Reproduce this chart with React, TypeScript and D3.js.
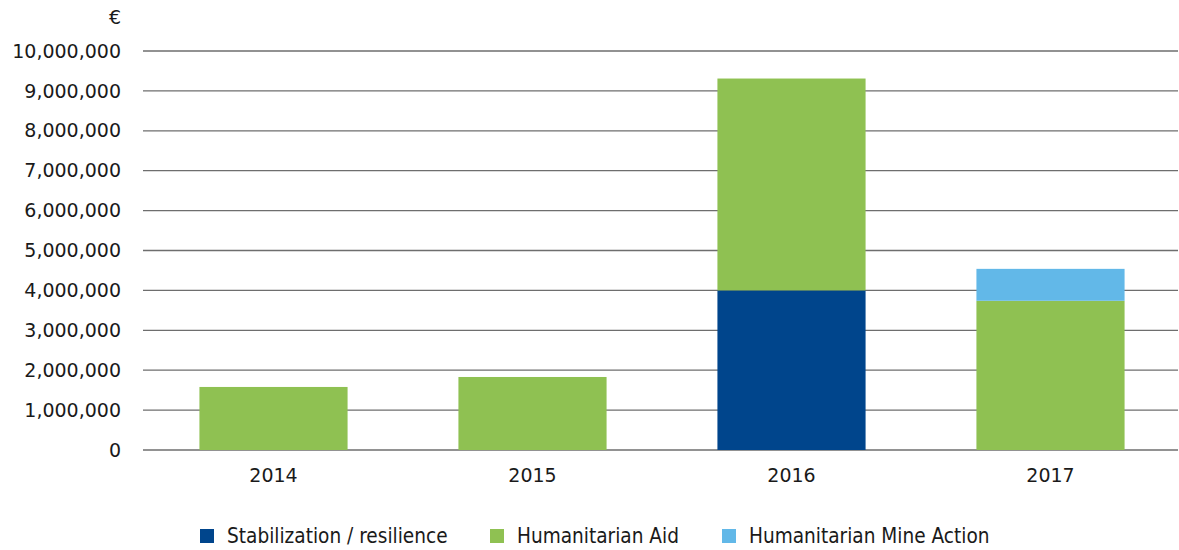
import * as d3 from "d3";
import { useEffect, useRef } from "react";

const years = ["2014", "2015", "2016", "2017"];
const stabilization = [0, 0, 4000000, 0];
const humanitarianAid = [1580000, 1830000, 5310000, 3740000];
const mineAction = [0, 0, 0, 800000];
const yTicks = [0, 1000000, 2000000, 3000000, 4000000, 5000000, 6000000, 7000000, 8000000, 9000000, 10000000];

const keys = ["stabilization", "aid", "mine"];
const labels = ["Stabilization / resilience", "Humanitarian Aid", "Humanitarian Mine Action"];
const colors = ["#00458c", "#8fc152", "#62b8e8"];

export default function App() {
    const ref = useRef<SVGSVGElement>(null);

    useEffect(() => {
        const svg = d3.select(ref.current);
        svg.selectAll("*").remove();

        const width = 1179;
        const height = 550;
        const margin = { top: 51, right: 0, bottom: 100, left: 143 };

        const data = years.map((y, i) => ({
            year: y,
            stabilization: stabilization[i],
            aid: humanitarianAid[i],
            mine: mineAction[i],
        }));
        const stacked = d3.stack<any>().keys(keys)(data);

        const x = d3
            .scaleBand()
            .domain(years)
            .range([margin.left + 1, width + 1])
            .paddingInner(0.428)
            .paddingOuter(0.214);

        const y = d3
            .scaleLinear()
            .domain([0, 10000000])
            .range([height - margin.bottom, margin.top]);

        const color = d3.scaleOrdinal<string>().domain(keys).range(colors);
        const fmt = d3.format(",");

        // gridlines + y labels
        const g = svg.append("g");
        g.selectAll("line")
            .data(yTicks)
            .join("line")
            .attr("x1", margin.left)
            .attr("x2", width - 1)
            .attr("y1", d => y(d))
            .attr("y2", d => y(d))
            .attr("stroke", "#6e6e6e")
            .attr("stroke-width", 1.3);

        g.selectAll("text")
            .data(yTicks)
            .join("text")
            .attr("x", 121)
            .attr("y", d => y(d))
            .attr("dy", "0.35em")
            .attr("text-anchor", "end")
            .attr("font-family", "DejaVu Sans")
            .attr("font-size", 19)
            .attr("fill", "#1a1a1a")
            .text(d => fmt(d));

        svg.append("text")
            .attr("x", 121)
            .attr("y", 17)
            .attr("dy", "0.35em")
            .attr("text-anchor", "end")
            .attr("font-family", "DejaVu Sans")
            .attr("font-size", 19)
            .attr("fill", "#1a1a1a")
            .text("€");

        // bars
        svg.append("g")
            .selectAll("g")
            .data(stacked)
            .join("g")
            .attr("fill", d => color(d.key))
            .selectAll("rect")
            .data(d => d)
            .join("rect")
            .attr("x", d => x(d.data.year)!)
            .attr("y", d => y(d[1]))
            .attr("height", d => y(d[0]) - y(d[1]))
            .attr("width", x.bandwidth());

        // x labels
        svg.append("g")
            .selectAll("text")
            .data(years)
            .join("text")
            .attr("x", d => x(d)! + x.bandwidth() / 2)
            .attr("y", 475)
            .attr("dy", "0.35em")
            .attr("text-anchor", "middle")
            .attr("font-family", "DejaVu Sans")
            .attr("font-size", 19)
            .attr("fill", "#1a1a1a")
            .text(d => d);

        // legend
        const legendX = [200, 490, 722];
        const lg = svg.append("g")
            .selectAll("g")
            .data(labels)
            .join("g")
            .attr("transform", (d, i) => `translate(${legendX[i]},536)`);
        lg.append("rect")
            .attr("x", 0)
            .attr("y", -7)
            .attr("width", 14)
            .attr("height", 14)
            .attr("fill", (d, i) => colors[i]);
        lg.append("text")
            .attr("x", 27)
            .attr("y", 0)
            .attr("dy", "0.35em")
            .attr("font-family", "DejaVu Sans Condensed")
            .attr("font-stretch", "condensed")
            .attr("font-size", 20.6)
            .attr("fill", "#1a1a1a")
            .text(d => d);
    }, []);

    return (
        <svg ref={ref} width={1179} height={550} style={{ position: "absolute", left: 0, top: 0 }}></svg>
    );
}
